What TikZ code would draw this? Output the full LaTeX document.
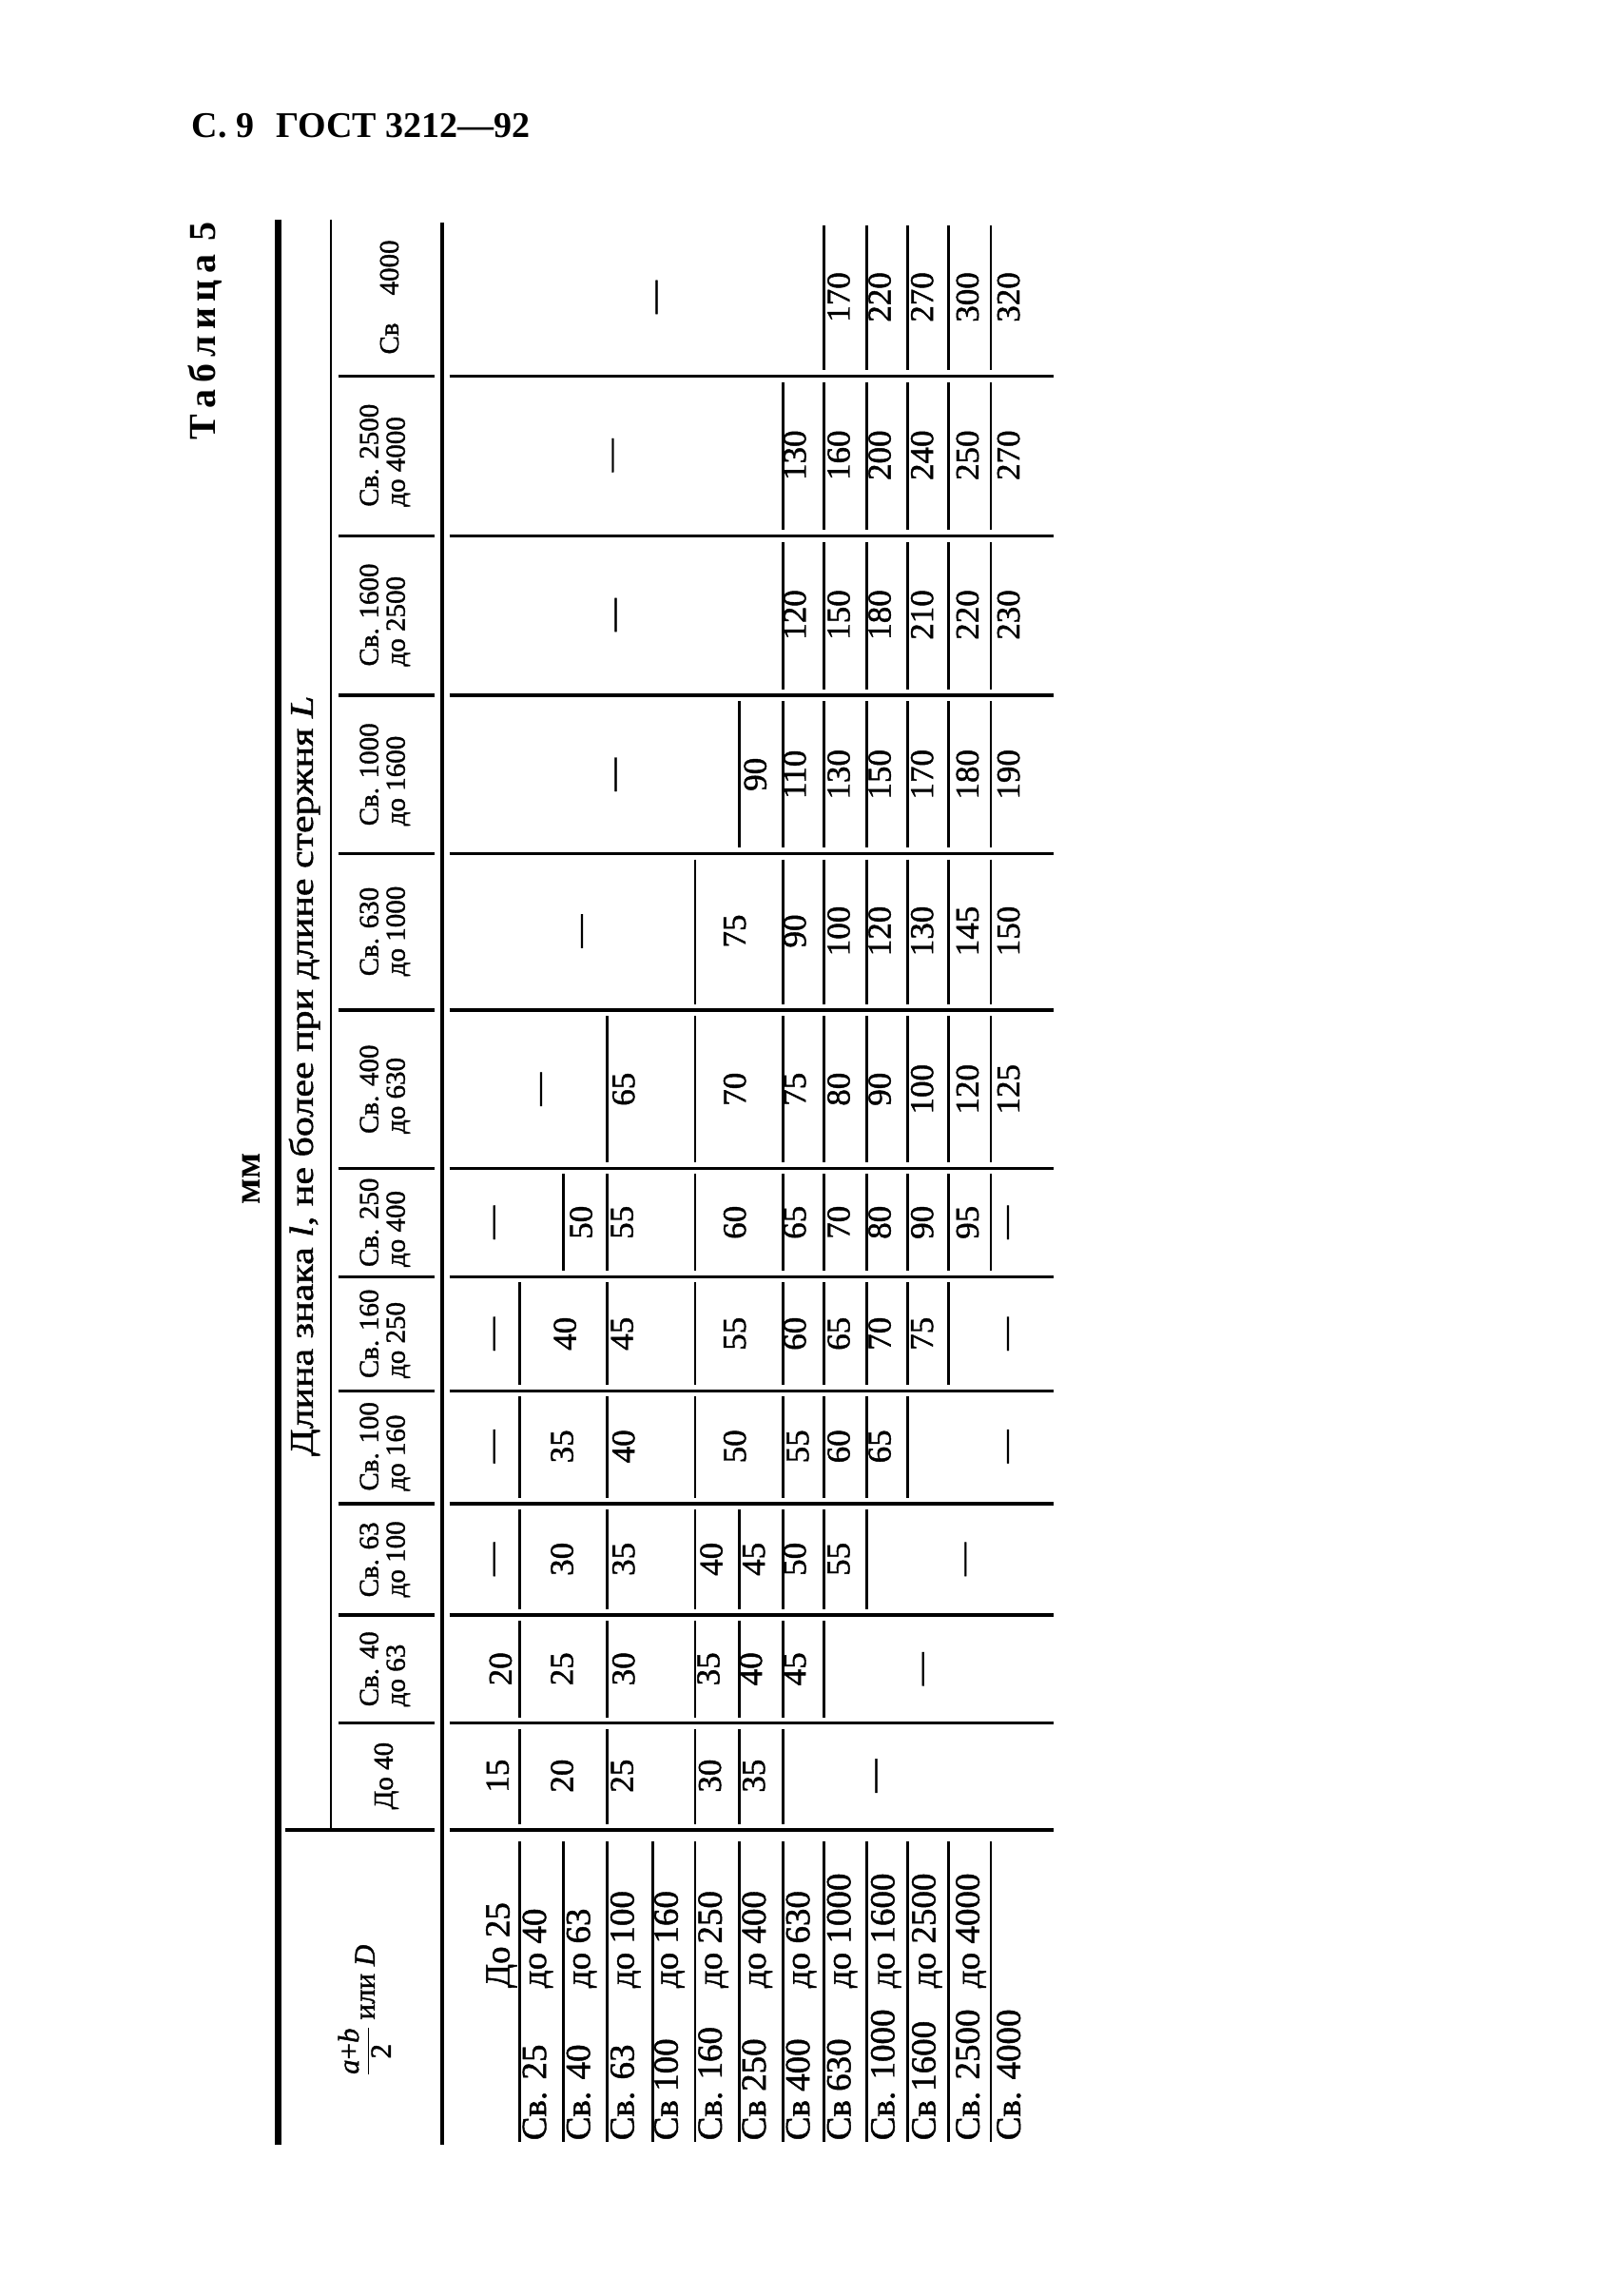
\documentclass[tikz,border=0pt]{standalone}
\usepackage{graphicx}
\usepackage{fontspec}
\setmainfont{Liberation Serif}[UprightFeatures={FakeBold=1.2},ItalicFeatures={FakeBold=1.2}]
\begin{document}
\begin{tikzpicture}[x=1.5392pt,y=-1.5392pt,
  val/.style={rotate=90,inner sep=0pt,font=\fontsize{35}{35}\selectfont},
  colhead/.style={rotate=90,inner sep=0pt,align=left,font=\fontsize{29}{28}\selectfont},
  rowlabel/.style={rotate=90,inner sep=0pt,anchor=base west,font=\fontsize{37}{37}\selectfont},
  thinrule/.style={line width=2.6pt},
  midrule/.style={line width=3.4pt},
  thickrule/.style={line width=7pt}]
\fill[white] (0,0) rectangle (1098,1568.3);
\useasboundingbox (0,0) rectangle (1098,1568.3);

% page heading
\node[anchor=base west,inner sep=0pt,font=\bfseries\fontsize{38}{38}\selectfont] (title) at (131,94) {С.~9\hspace{0.6em}ГОСТ 3212—92};
\node[rotate=90,anchor=base,inner sep=0pt,font=\bfseries\fontsize{40}{40}\selectfont] (tabl) at (147,226) {Т\,а\,б\,л\,и\,ц\,а\hspace{0.35em}5};
\node[rotate=90,anchor=base,inner sep=0pt,font=\bfseries\fontsize{40}{40}\selectfont] (mm) at (178,805) {мм};

% main rules
\draw[thickrule] (190,150) -- (190,1465);
\draw[midrule] (302,152) -- (302,1465);
\draw[thinrule] (226,150) -- (226,1250);

% column separators
\draw[midrule] (195,1250) -- (297,1250);
\foreach \y in {1177,1103,1027,950,872,798,690,583,475,366,257}
  \draw[midrule] (231,\y) -- (297,\y);
\foreach \y in {1250,1177,1103,1027,950,872,798,690,583,475,366,257}
  \draw[midrule] (307,\y) -- (720,\y);

% row rules
\foreach \x in {355,385,415,446,475,505,535,563,592,620,648,677}
  \draw[thinrule] (\x,1258) -- (\x,1463);
\foreach \x in {355,415,475,505,535} \draw[thinrule] (\x,1181) -- (\x,1246);
\foreach \x in {355,415,475,505,535,563} \draw[thinrule] (\x,1107) -- (\x,1173);
\foreach \x in {355,415,475,505,535,563,592} \draw[thinrule] (\x,1031) -- (\x,1099);
\foreach \x in {355,415,475,535,563,592,620} \draw[thinrule] (\x,954) -- (\x,1023);
\foreach \x in {355,415,475,535,563,592,620,648} \draw[thinrule] (\x,876) -- (\x,946);
\foreach \x in {385,415,475,535,563,592,620,648,677} \draw[thinrule] (\x,802) -- (\x,868);
\foreach \x in {415,475,535,563,592,620,648,677} \draw[thinrule] (\x,694) -- (\x,794);
\foreach \x in {475,535,563,592,620,648,677} \draw[thinrule] (\x,587) -- (\x,686);
\foreach \x in {505,535,563,592,620,648,677} \draw[thinrule] (\x,479) -- (\x,579);
\foreach \x in {535,563,592,620,648,677} \draw[thinrule] (\x,370) -- (\x,471);
\foreach \x in {535,563,592,620,648,677} \draw[thinrule] (\x,261) -- (\x,362);
\foreach \x in {563,592,620,648,677} \draw[thinrule] (\x,154) -- (\x,253);

% header texts
\node[rotate=90,inner sep=0pt,font=\fontsize{31}{31}\selectfont] (h0) at (249,1373)
  {$\displaystyle\frac{\mbox{\itshape a\upshape +\itshape b}}{\mbox{2}}$ или \textit{D}};
\node[rotate=90,inner sep=0pt,font=\fontsize{35}{35}\selectfont] (hL) at (208,735)
  {\scalebox{1.2}[1]{Длина знака \textit{l}, не более при длине стержня \textit{L}}};
\node[colhead] (h1) at (264,1213) {До 40};
\node[colhead] (h2) at (263,1140) {Св. 40\\до 63};
\node[colhead] (h3) at (263,1065) {Св. 63\\до 100};
\node[colhead] (h4) at (263,988) {Св. 100\\до 160};
\node[colhead] (h5) at (263,911) {Св. 160\\до 250};
\node[colhead] (h6) at (263,835) {Св. 250\\до 400};
\node[colhead] (h7) at (263,744) {Св. 400\\до 630};
\node[colhead] (h8) at (263,636) {Св. 630\\до 1000};
\node[colhead] (h9) at (263,529) {Св. 1000\\до 1600};
\node[colhead] (h10) at (263,420) {Св. 1600\\до 2500};
\node[colhead] (h11) at (263,311) {Св. 2500\\до 4000};
\node[colhead] (h12) at (266,203) {Св\hspace{1em}4000};

% row labels
\node[rowlabel] (r1b) at (348,1358) {До 25};
\foreach \x/\a/\b [count=\i] in {373/Св. 25/до 40, 403/Св. 40/до 63, 433/Св. 63/до 100,
   463/Св 100/до 160, 493/Св. 160/до 250, 523/Св 250/до 400, 553/Св 400/до 630,
   581/Св 630/до 1000, 611/Св. 1000/до 1600, 639/Св 1600/до 2500, 669/Св. 2500/до 4000}
{
  \node[rowlabel] (ra\i) at (\x,1462) {\a};
  \node[rowlabel] (rb\i) at (\x,1358) {\b};
}
\node[rowlabel] (ra13) at (697,1462) {Св. 4000};

% values
\foreach \x/\t in {340/15,384/20,425/25,485/30,515/35,601/—}
  \node[val] (va\x) at (\x,1213) {\t};
\foreach \x/\t in {342/20,384/25,426/30,484/35,513/40,543/45,633/—}
  \node[val] (vb\x) at (\x,1140) {\t};
\foreach \x/\t in {340/—,384/30,426/35,486/40,515/45,543/50,573/55,662/—}
  \node[val] (vc\x) at (\x,1065) {\t};
\foreach \x/\t in {340/—,384/35,426/40,502/50,545/55,573/60,601/65,691/—}
  \node[val] (vd\x) at (\x,988) {\t};
\foreach \x/\t in {340/—,386/40,425/45,502/55,543/60,573/65,601/70,630/75,691/—}
  \node[val] (ve\x) at (\x,911) {\t};
\foreach \x/\t in {340/—,397/50,425/55,502/60,543/65,573/70,601/80,630/90,661/95,691/—}
  \node[val] (vf\x) at (\x,835) {\t};
\foreach \x/\t in {372/—,426/65,502/70,543/75,573/80,601/90,630/100,661/120,689/125}
  \node[val] (vg\x) at (\x,744) {\t};
\foreach \x/\t in {400/—,502/75,543/90,573/100,601/120,630/130,661/145,689/150}
  \node[val] (vh\x) at (\x,636) {\t};
\foreach \x/\t in {423/—,516/90,543/110,573/130,601/150,630/170,661/180,689/190}
  \node[val] (vi\x) at (\x,529) {\t};
\foreach \x/\t in {423/—,543/120,573/150,601/180,630/210,661/220,689/230}
  \node[val] (vj\x) at (\x,420) {\t};
\foreach \x/\t in {421/—,543/130,573/160,601/200,630/240,661/250,689/270}
  \node[val] (vk\x) at (\x,311) {\t};
\foreach \x/\t in {451/—,573/170,601/220,630/270,661/300,689/320}
  \node[val] (vl\x) at (\x,203) {\t};
\end{tikzpicture}
\end{document}
